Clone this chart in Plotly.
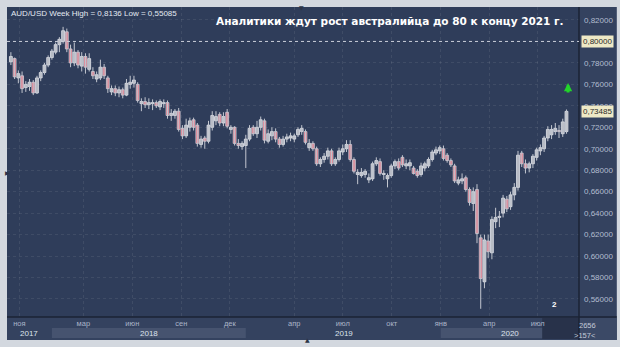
import plotly.graph_objects as go
import pandas as pd

# ---------------- data (weekly AUD/USD candles) ----------------
start_week = "2017-10-16"
opens = [0.781, 0.784, 0.766, 0.768, 0.757, 0.758, 0.762, 0.752, 0.766, 0.771,
         0.778, 0.785, 0.790, 0.797, 0.800, 0.809, 0.793, 0.780, 0.790, 0.777,
         0.786, 0.774, 0.772, 0.765, 0.766, 0.776, 0.766, 0.753, 0.756, 0.752,
         0.755, 0.750, 0.760, 0.761, 0.760, 0.742, 0.744, 0.741, 0.742, 0.743,
         0.739, 0.742, 0.743, 0.731, 0.731, 0.735, 0.719, 0.712, 0.720, 0.727,
         0.722, 0.704, 0.710, 0.707, 0.720, 0.726, 0.732, 0.724, 0.734, 0.718,
         0.720, 0.705, 0.702, 0.703, 0.709, 0.720, 0.714, 0.720, 0.726, 0.707,
         0.712, 0.716, 0.709, 0.704, 0.709, 0.710, 0.709, 0.713, 0.716, 0.716,
         0.701, 0.705, 0.700, 0.686, 0.690, 0.693, 0.698, 0.686, 0.690, 0.697,
         0.700, 0.704, 0.690, 0.676, 0.675, 0.676, 0.671, 0.672, 0.686, 0.688,
         0.676, 0.672, 0.675, 0.684, 0.688, 0.692, 0.684, 0.684, 0.682, 0.679,
         0.676, 0.682, 0.684, 0.690, 0.696, 0.698, 0.700, 0.694, 0.689, 0.684,
         0.668, 0.670, 0.673, 0.662, 0.649, 0.662, 0.617, 0.576, 0.614, 0.603,
         0.632, 0.636, 0.640, 0.653, 0.646, 0.657, 0.664, 0.696, 0.686, 0.682,
         0.686, 0.692, 0.698, 0.700, 0.710, 0.713, 0.716, 0.717, 0.714, 0.716]
highs = [0.790, 0.785, 0.773, 0.772, 0.763, 0.765, 0.764, 0.768, 0.773, 0.780,
         0.787, 0.793, 0.799, 0.804, 0.8136, 0.812, 0.797, 0.799, 0.792, 0.790,
         0.789, 0.789, 0.776, 0.772, 0.783, 0.779, 0.768, 0.759, 0.759, 0.758,
         0.757, 0.765, 0.768, 0.768, 0.762, 0.747, 0.748, 0.747, 0.746, 0.745,
         0.746, 0.746, 0.745, 0.737, 0.737, 0.738, 0.722, 0.728, 0.729, 0.729,
         0.724, 0.712, 0.712, 0.726, 0.735, 0.735, 0.734, 0.734, 0.737, 0.722,
         0.721, 0.709, 0.707, 0.713, 0.722, 0.722, 0.726, 0.730, 0.728, 0.718,
         0.720, 0.719, 0.711, 0.712, 0.714, 0.715, 0.714, 0.720, 0.722, 0.718,
         0.709, 0.707, 0.702, 0.692, 0.696, 0.701, 0.700, 0.692, 0.701, 0.704,
         0.708, 0.708, 0.692, 0.681, 0.682, 0.681, 0.677, 0.688, 0.692, 0.691,
         0.680, 0.677, 0.686, 0.690, 0.691, 0.694, 0.690, 0.690, 0.684, 0.681,
         0.687, 0.688, 0.692, 0.699, 0.702, 0.703, 0.703, 0.696, 0.691, 0.686,
         0.674, 0.677, 0.675, 0.664, 0.664, 0.667, 0.620, 0.620, 0.620, 0.637,
         0.645, 0.642, 0.657, 0.656, 0.660, 0.668, 0.698, 0.698, 0.690, 0.688,
         0.695, 0.701, 0.704, 0.712, 0.721, 0.722, 0.724, 0.722, 0.728, 0.7366]
lows = [0.778, 0.765, 0.761, 0.752, 0.753, 0.754, 0.750, 0.751, 0.763, 0.769,
        0.776, 0.783, 0.788, 0.790, 0.798, 0.790, 0.776, 0.777, 0.775, 0.772,
        0.770, 0.772, 0.765, 0.762, 0.764, 0.765, 0.752, 0.750, 0.749, 0.748,
        0.747, 0.749, 0.756, 0.757, 0.743, 0.735, 0.738, 0.737, 0.736, 0.738,
        0.736, 0.738, 0.728, 0.726, 0.728, 0.716, 0.709, 0.710, 0.716, 0.717,
        0.702, 0.701, 0.700, 0.705, 0.717, 0.722, 0.721, 0.721, 0.719, 0.714,
        0.703, 0.700, 0.699, 0.682, 0.707, 0.712, 0.710, 0.717, 0.705, 0.705,
        0.708, 0.706, 0.701, 0.702, 0.706, 0.707, 0.706, 0.711, 0.713, 0.704,
        0.698, 0.698, 0.684, 0.683, 0.687, 0.690, 0.684, 0.684, 0.688, 0.694,
        0.697, 0.688, 0.677, 0.667, 0.673, 0.673, 0.668, 0.670, 0.684, 0.675,
        0.671, 0.664, 0.673, 0.681, 0.680, 0.683, 0.681, 0.680, 0.676, 0.673,
        0.674, 0.679, 0.682, 0.688, 0.694, 0.695, 0.689, 0.687, 0.683, 0.668,
        0.666, 0.667, 0.660, 0.647, 0.642, 0.612, 0.55085, 0.570, 0.598, 0.597,
        0.626, 0.627, 0.636, 0.641, 0.643, 0.652, 0.661, 0.683, 0.677, 0.678,
        0.682, 0.689, 0.694, 0.697, 0.707, 0.709, 0.713, 0.710, 0.711, 0.714]
closes = [0.786, 0.767, 0.770, 0.756, 0.760, 0.762, 0.752, 0.766, 0.771, 0.778,
          0.785, 0.791, 0.797, 0.802, 0.810, 0.793, 0.780, 0.790, 0.778, 0.786,
          0.776, 0.784, 0.768, 0.769, 0.776, 0.768, 0.756, 0.756, 0.752, 0.755,
          0.750, 0.761, 0.762, 0.764, 0.745, 0.744, 0.741, 0.743, 0.743, 0.740,
          0.744, 0.743, 0.731, 0.733, 0.735, 0.718, 0.712, 0.722, 0.726, 0.720,
          0.705, 0.709, 0.707, 0.722, 0.731, 0.730, 0.724, 0.730, 0.721, 0.720,
          0.705, 0.703, 0.705, 0.709, 0.719, 0.714, 0.720, 0.727, 0.708, 0.714,
          0.716, 0.709, 0.704, 0.709, 0.711, 0.712, 0.712, 0.718, 0.719, 0.706,
          0.705, 0.700, 0.686, 0.690, 0.693, 0.698, 0.686, 0.690, 0.698, 0.700,
          0.704, 0.690, 0.679, 0.678, 0.678, 0.679, 0.673, 0.686, 0.689, 0.677,
          0.677, 0.675, 0.684, 0.688, 0.682, 0.685, 0.686, 0.687, 0.677, 0.675,
          0.684, 0.686, 0.690, 0.697, 0.699, 0.701, 0.691, 0.689, 0.685, 0.670,
          0.671, 0.672, 0.662, 0.650, 0.660, 0.621, 0.579, 0.615, 0.604, 0.634,
          0.636, 0.637, 0.654, 0.644, 0.657, 0.664, 0.694, 0.686, 0.682, 0.686,
          0.693, 0.699, 0.701, 0.710, 0.718, 0.718, 0.719, 0.716, 0.725, 0.73485]

level_line = 0.80
y_ticks = [0.56, 0.58, 0.60, 0.62, 0.64, 0.66, 0.68, 0.70, 0.72, 0.74, 0.76, 0.78, 0.80, 0.82]
month_ticks = ["2017-11-01", "2018-03-01", "2018-06-01", "2018-09-01", "2018-12-01",
               "2019-04-01", "2019-07-01", "2019-10-01", "2020-01-01", "2020-04-01", "2020-07-01"]
month_labels = ["ноя", "мар", "июн", "сен", "дек", "апр", "июл", "окт", "янв", "апр", "июл"]
years = [2017, 2018, 2019, 2020]
title_text = "Аналитики ждут рост австралийца до 80 к концу 2021 г."
corner_texts = ["2656", ">157<"]
marker_text = "2"

# ---------------- figure ----------------
dates = pd.date_range(start_week, periods=len(closes), freq="7D")
x_range = [pd.Timestamp("2017-10-08 17:00"), pd.Timestamp("2020-09-16 12:00")]

W, H = 620, 347
ML, MR, MT, MB = 7, 38, 7, 30
PW, PH = W - ML - MR, H - MT - MB


def px(xp):
    return (xp - ML) / PW


def py(yp):
    return (H - MB - yp) / PH


fmt = lambda v, d: f"{v:.{d}f}".replace(".", ",")

df = pd.DataFrame(dict(x=dates, o=opens, h=highs, l=lows, c=closes))
df["lo_body"] = df[["o", "c"]].min(axis=1)
df["body"] = (df["c"] - df["o"]).abs().clip(lower=0.0004)
up = df[df["c"] >= df["o"]]
dn = df[df["c"] < df["o"]]

# wicks
wx, wy = [], []
for r in df.itertuples():
    wx += [r.x, r.x, None]
    wy += [r.l, r.h, None]

body_w = 5.4 * 86400000  # body width in ms (about 3 px)

fig = go.Figure()
fig.add_trace(go.Scatter(x=wx, y=wy, mode="lines", line=dict(color="#c3c7d0", width=1),
                         showlegend=False, hoverinfo="skip"))
fig.add_trace(go.Bar(x=up["x"], y=up["body"], base=up["lo_body"], width=body_w,
                     marker=dict(color="#a9adb7", line=dict(color="#e6e9ef", width=0.8)),
                     showlegend=False, hoverinfo="skip"))
fig.add_trace(go.Bar(x=dn["x"], y=dn["body"], base=dn["lo_body"], width=body_w,
                     marker=dict(color="#ea6275", line=dict(color="#cdd1d9", width=0.8)),
                     showlegend=False, hoverinfo="skip"))

panel = "#34425f"
shapes = [
    dict(type="rect", xref="paper", yref="paper", x0=1, x1=px(W), y0=py(340), y1=1,
         fillcolor=panel, line=dict(width=0), layer="below"),
    dict(type="rect", xref="paper", yref="paper", x0=0, x1=1, y0=py(340), y1=0,
         fillcolor=panel, line=dict(width=0), layer="below"),
    dict(type="rect", xref="paper", yref="paper", x0=1, x1=px(W), y0=py(340), y1=py(318),
         fillcolor="#3b4966", line=dict(width=0), layer="below"),
]
for yr in [2018, 2020]:
    shapes.append(dict(type="rect", xref="x", yref="paper",
                       x0=pd.Timestamp(f"{yr}-01-01"), x1=min(pd.Timestamp(f"{yr}-12-31"), x_range[1]),
                       y0=py(338), y1=py(328), fillcolor="#46536f", line=dict(width=0), layer="below"))
shapes += [
    dict(type="rect", xref="paper", yref="paper", x0=px(545), x1=1, y0=py(339), y1=py(318),
         fillcolor="#28324a", line=dict(width=0), layer="below"),
    dict(type="line", xref="paper", yref="paper", x0=1, x1=1, y0=py(340), y1=1,
         line=dict(color="#1b2334", width=1.5)),
    dict(type="line", xref="paper", yref="paper", x0=0, x1=px(W), y0=0, y1=0,
         line=dict(color="#1b2334", width=1.5)),
    dict(type="line", xref="paper", yref="y", x0=0, x1=1, y0=level_line, y1=level_line,
         line=dict(color="#c9ced8", width=1, dash="dot")),
]

annotations = []
annotations.append(dict(
    xref="paper", yref="paper", x=px(9), y=py(13), xanchor="left", yanchor="middle",
    text=f"AUD/USD Week High = {fmt(max(highs), 4)} Low = {fmt(min(lows), 5)}",
    showarrow=False, font=dict(family="Liberation Sans", size=8, color="#e4e9f1")))
annotations.append(dict(
    xref="paper", yref="paper", x=px(569), y=py(21), xanchor="right", yanchor="middle",
    text=f"<b>{title_text}</b>", showarrow=False,
    font=dict(family="DejaVu Sans", size=10.5, color="#ffffff")))
for val, txt in [(level_line, fmt(level_line, 5)), (closes[-1], fmt(closes[-1], 5))]:
    annotations.append(dict(
        xref="paper", yref="y", x=1, y=val, xanchor="left", yanchor="middle", xshift=2,
        text=txt, showarrow=False, bgcolor="#eee9c6", borderpad=1,
        font=dict(family="Liberation Sans", size=8, color="#2b2b2b")))
for yr in years:
    a = max(pd.Timestamp(f"{yr}-01-01"), x_range[0])
    b = min(pd.Timestamp(f"{yr + 1}-01-01"), x_range[1])
    annotations.append(dict(
        xref="x", yref="paper", x=a + (b - a) / 2, y=py(333), yanchor="middle",
        text=str(yr), showarrow=False,
        font=dict(family="Liberation Sans", size=8, color="#dde2ec")))
annotations.append(dict(
    xref="paper", yref="paper", x=px(571), y=py(83), ax=0, ay=11, text="",
    showarrow=True, arrowhead=2, arrowsize=0.55, arrowwidth=3, arrowcolor="#22d42a"))
annotations.append(dict(
    xref="paper", yref="paper", x=px(562), y=py(311), text=f"<b>{marker_text}</b>",
    showarrow=False, font=dict(family="Liberation Sans", size=8, color="#ffffff")))
for i, t in enumerate(corner_texts):
    annotations.append(dict(
        xref="paper", yref="paper", x=px(601), y=py(325 + 10 * i), yanchor="middle",
        text=t, showarrow=False,
        font=dict(family="Liberation Sans", size=7.5, color="#c3cad8")))
for xx, yy, t in [(303, 2, "▼"), (3, 172, "▶"), (309, 345, "▲")]:
    annotations.append(dict(
        xref="paper", yref="paper", x=px(xx), y=py(yy), text=t, showarrow=False,
        font=dict(family="DejaVu Sans", size=6, color="#2c3447")))

fig.update_layout(
    width=W, height=H, margin=dict(l=ML, r=MR, t=MT, b=MB, pad=0),
    paper_bgcolor="#d3d8df", plot_bgcolor="#2f3d5a",
    separators=",.", barmode="overlay",
    shapes=shapes, annotations=annotations,
    xaxis=dict(type="date", range=x_range,
               tickvals=month_ticks, ticktext=month_labels, ticks="",
               tickfont=dict(family="Liberation Sans", size=7.5, color="#aab4c8"),
               showgrid=True, gridcolor="rgba(255,255,255,0.08)", griddash="dot",
               zeroline=False, showline=False, fixedrange=True),
    yaxis=dict(side="right", range=[0.5432, 0.8321], tickvals=y_ticks, tickformat=".5f",
               ticks="", ticklabelstandoff=4,
               tickfont=dict(family="Liberation Sans", size=8, color="#b3bdd0"),
               showgrid=True, gridcolor="rgba(255,255,255,0.08)", griddash="dot",
               zeroline=False, showline=False, fixedrange=True),
)

fig.write_html("out.html")
